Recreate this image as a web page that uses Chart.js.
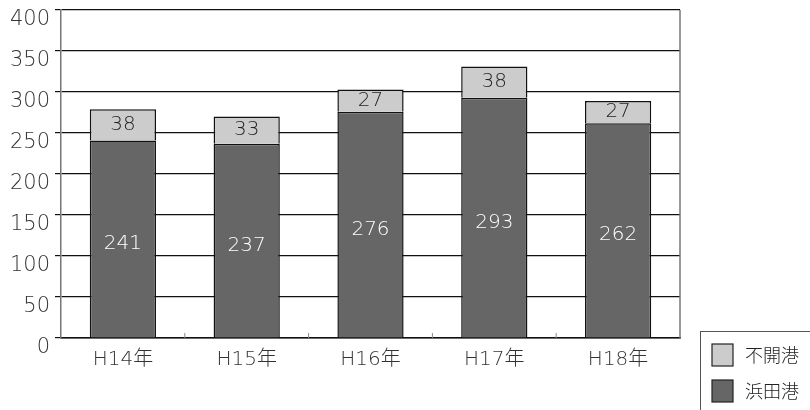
<!DOCTYPE html>
<html><head><meta charset="utf-8">
<script src="https://cdn.jsdelivr.net/npm/chart.js@4.4.1/dist/chart.umd.min.js"></script>
<style>html,body{margin:0;padding:0;background:#fff}#wrap{width:810px;height:410px}</style>
</head><body><div id="wrap"><canvas id="c" width="810" height="410"></canvas></div>
<script>
const categories = ['H14年','H15年','H16年','H17年','H18年'];
const hamada = [241, 237, 276, 293, 262];
const fukaiko = [38, 33, 27, 38, 27];
const seriesNames = ['浜田港','不開港'];
const FONT = '"DejaVu Sans", "Noto Sans CJK JP", sans-serif';
const JFONT = '"Noto Sans CJK JP", sans-serif';

const labelPlugin = {
  id: 'valueLabels',
  afterDatasetsDraw(chart) {
    const ctx = chart.ctx;
    ctx.save();
    ctx.font = '200 20px ' + FONT;
    ctx.textAlign = 'center';
    ctx.textBaseline = 'middle';
    chart.data.datasets.forEach((ds, i) => {
      const meta = chart.getDatasetMeta(i);
      meta.data.forEach((el, j) => {
        ctx.fillStyle = i === 0 ? '#ffffff' : '#222222';
        const dy = i === 0 ? 5 : 0;
        ctx.fillText(String(ds.data[j]), el.x, (el.y + el.base) / 2 + dy);
      });
    });
    ctx.restore();
  }
};

const framePlugin = {
  id: 'frame',
  afterDraw(chart) {
    const ctx = chart.ctx, a = chart.chartArea, xs = chart.scales.x;
    ctx.save();
    ctx.strokeStyle = '#777';
    ctx.lineWidth = 1.5;
    ctx.beginPath(); ctx.moveTo(a.right, a.top); ctx.lineTo(a.right, a.bottom); ctx.stroke();
    ctx.strokeStyle = '#888';
    ctx.lineWidth = 1;
    for (let i = 1; i < categories.length; i++) {
      const x = (xs.getPixelForValue(i - 1) + xs.getPixelForValue(i)) / 2;
      ctx.beginPath(); ctx.moveTo(x, a.bottom); ctx.lineTo(x, a.bottom - 5); ctx.stroke();
    }
    const lx = 700, ly = 331;
    ctx.strokeStyle = '#555';
    ctx.lineWidth = 1;
    ctx.strokeRect(lx + 0.5, ly + 0.5, 130, 100);
    const order = [1, 0];
    ctx.font = '300 18px ' + JFONT;
    ctx.textAlign = 'left';
    ctx.textBaseline = 'middle';
    order.forEach((di, k) => {
      const ds = chart.data.datasets[di];
      const y = 344 + k * 36;
      ctx.fillStyle = ds.backgroundColor;
      ctx.fillRect(712, y, 21, 22);
      ctx.strokeStyle = '#222';
      ctx.lineWidth = 1.2;
      ctx.strokeRect(712, y, 21, 22);
      ctx.fillStyle = '#222';
      ctx.fillText(ds.label, 745, y + 11);
    });
    ctx.restore();
  }
};

new Chart(document.getElementById('c'), {
  type: 'bar',
  data: {
    labels: categories,
    datasets: [
      { label: seriesNames[0], data: hamada, backgroundColor: '#666666', borderColor: '#111', borderWidth: 1.5, borderSkipped: 'bottom' },
      { label: seriesNames[1], data: fukaiko, backgroundColor: '#cccccc', borderColor: '#111', borderWidth: 1.5, borderSkipped: 'bottom' }
    ]
  },
  options: {
    responsive: false,
    animation: false,
    devicePixelRatio: 1,
    layout: { padding: { left: 0, right: 130, top: 10, bottom: 0 } },
    plugins: { legend: { display: false }, tooltip: { enabled: false } },
    datasets: { bar: { barPercentage: 0.535, categoryPercentage: 1 } },
    scales: {
      x: {
        stacked: true,
        grid: { display: false },
        border: { color: '#111', width: 1.5 },
        ticks: { color: '#333', font: { family: FONT, size: 20, weight: 200 }, padding: 2 },
        afterFit(s) { s.height = 72; s.paddingLeft = 0; s.paddingRight = 0; }
      },
      y: {
        stacked: true,
        min: 0, max: 400,
        ticks: { stepSize: 50, color: '#333', font: { family: FONT, size: 21, weight: 200 }, padding: 5, labelOffset: 10 },
        grid: { color: '#111', lineWidth: 1.2, tickLength: 6, tickColor: '#111' },
        border: { color: '#777', width: 1.5 },
        afterFit(s) { s.width = 61; s.paddingTop = 0; s.paddingBottom = 0; }
      }
    }
  },
  plugins: [labelPlugin, framePlugin]
});
</script>
</body></html>
